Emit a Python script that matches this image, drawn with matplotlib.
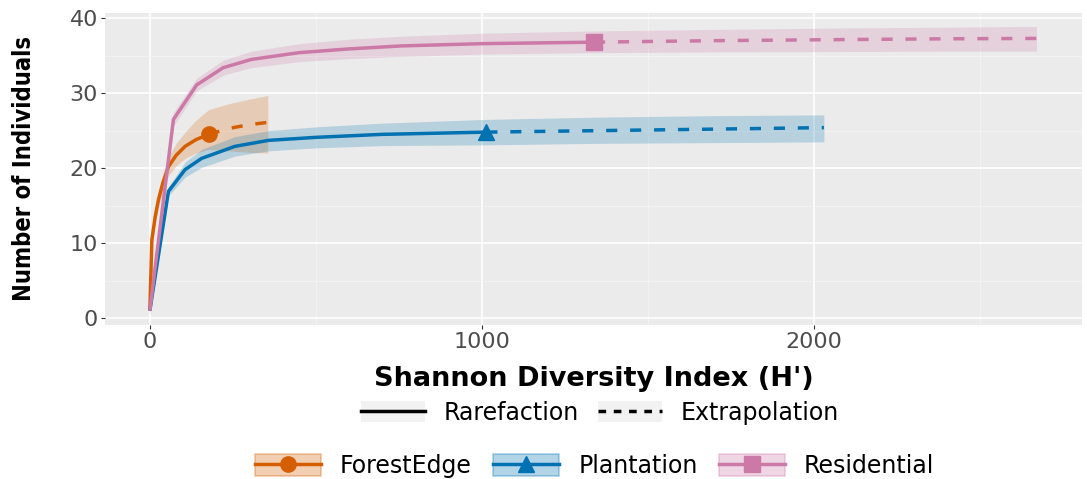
import numpy as np
import matplotlib.pyplot as plt
from matplotlib.lines import Line2D
from matplotlib.patches import Patch
from matplotlib.legend_handler import HandlerTuple

sites = ["ForestEdge", "Plantation", "Residential"]
colors = {"ForestEdge": "#D55E00", "Plantation": "#0072B2", "Residential": "#CC79A7"}
markers = {"ForestEdge": "o", "Plantation": "^", "Residential": "s"}

# rarefaction part (observed sample is the last point)
rare_x = {
    "ForestEdge": [1, 7, 17, 27, 40, 57, 80, 107, 140, 178],
    "Plantation": [1, 57, 107, 157, 257, 358, 500, 700, 1014],
    "Residential": [1, 72, 142, 222, 307, 450, 600, 758, 1000, 1338],
}
rare_y = {
    "ForestEdge": [1, 10.4, 13.5, 15.8, 18.0, 20.2, 21.7, 22.9, 23.8, 24.5],
    "Plantation": [1, 16.9, 19.8, 21.3, 22.9, 23.7, 24.1, 24.5, 24.8],
    "Residential": [1, 26.5, 31.1, 33.4, 34.5, 35.4, 35.9, 36.3, 36.6, 36.8],
}
rare_lo = {
    "ForestEdge": [0.5, 9.5, 12.6, 14.8, 17.0, 19.0, 20.3, 21.3, 22.0, 22.5],
    "Plantation": [0.5, 16.3, 18.8, 20.1, 21.6, 22.3, 22.7, 23.0, 23.1],
    "Residential": [0.5, 25.6, 30.3, 32.4, 33.4, 34.2, 34.6, 34.9, 35.2, 35.4],
}
rare_hi = {
    "ForestEdge": [1.5, 11.3, 14.5, 16.9, 19.2, 21.5, 23.3, 24.8, 26.4, 27.8],
    "Plantation": [1.5, 17.5, 20.8, 22.5, 24.2, 25.0, 25.5, 26.0, 26.5],
    "Residential": [1.5, 27.4, 32.0, 34.4, 35.6, 36.6, 37.2, 37.6, 38.0, 38.3],
}

# extrapolation part
extr_x = {
    "ForestEdge": [178, 240, 300, 356],
    "Plantation": [1014, 1350, 1700, 2030],
    "Residential": [1338, 1700, 2100, 2400, 2670],
}
extr_y = {
    "ForestEdge": [24.5, 25.3, 25.8, 26.1],
    "Plantation": [24.8, 25.0, 25.2, 25.4],
    "Residential": [36.8, 37.0, 37.15, 37.25, 37.3],
}
extr_lo = {
    "ForestEdge": [22.5, 22.3, 22.1, 22.0],
    "Plantation": [23.1, 23.3, 23.4, 23.5],
    "Residential": [35.4, 35.5, 35.55, 35.6, 35.6],
}
extr_hi = {
    "ForestEdge": [27.8, 28.6, 29.2, 29.7],
    "Plantation": [26.5, 26.8, 27.0, 27.1],
    "Residential": [38.3, 38.5, 38.7, 38.8, 38.9],
}

DASH = (0, (3.2, 3.7))

fig = plt.figure(figsize=(10.87, 4.79), dpi=100)
ax = fig.add_axes([0.0966, 0.3215, 0.8988, 0.6515])
ax.set_facecolor("#EBEBEB")
for s in ax.spines.values():
    s.set_visible(False)

for site in sites:
    c = colors[site]
    ax.fill_between(rare_x[site] + extr_x[site][1:], rare_lo[site] + extr_lo[site][1:],
                    rare_hi[site] + extr_hi[site][1:], color=c, alpha=0.22, lw=0)
for site in sites:
    c = colors[site]
    ax.plot(rare_x[site], rare_y[site], color=c, lw=2.5, solid_capstyle="butt")
    ax.plot(extr_x[site], extr_y[site], color=c, lw=2.5, ls=DASH)
    ax.plot(rare_x[site][-1], rare_y[site][-1], marker=markers[site], color=c, ms=11)

ax.set_xlim(-134, 2807)
ax.set_ylim(-0.93, 40.7)
ax.set_xticks([0, 1000, 2000])
ax.set_yticks([0, 10, 20, 30, 40])
ax.set_xticks([500, 1500, 2500], minor=True)
ax.set_yticks([5, 15, 25, 35], minor=True)
ax.grid(which="major", color="white", lw=1.2)
ax.grid(which="minor", color="#F4F4F4", lw=0.6)
ax.set_axisbelow(True)
ax.tick_params(which="major", length=3, color="#333333", labelsize=16, labelcolor="#4D4D4D", pad=2)
ax.tick_params(which="minor", length=0)

ax.set_xlabel("Shannon Diversity Index (H')", fontsize=19.5, fontweight="bold", labelpad=10)
ax.set_ylabel("Number of Individuals", fontsize=17, fontweight="bold", fontstretch="condensed",
              labelpad=24)

key_bg = Patch(facecolor="#F2F2F2", edgecolor="none")
lt_handles = [(key_bg, Line2D([], [], color="black", lw=2.5)),
              (key_bg, Line2D([], [], color="black", lw=2.5, ls=(0, (2.2, 2.2))))]
fig.legend(lt_handles, ["Rarefaction", "Extrapolation"], loc="center",
           bbox_to_anchor=(0.552, 0.138), ncol=2, frameon=False,
           handler_map={tuple: HandlerTuple(ndivide=1)}, handlelength=2.7, handleheight=1.0,
           columnspacing=0.8, handletextpad=0.8, prop={"size": 17})

col_handles = []
for site in sites:
    c = colors[site]
    col_handles.append((Patch(facecolor=c, alpha=0.3, edgecolor=c, lw=1.3),
                        Line2D([], [], color=c, lw=2.5, marker=markers[site], ms=11)))
fig.legend(col_handles, sites, loc="center", bbox_to_anchor=(0.547, 0.027), ncol=3,
           frameon=False, handler_map={tuple: HandlerTuple(ndivide=1)},
           handlelength=2.8, handleheight=1.05, columnspacing=0.9, handletextpad=0.8,
           prop={"size": 17})

fig.savefig("out.png", dpi=100)
